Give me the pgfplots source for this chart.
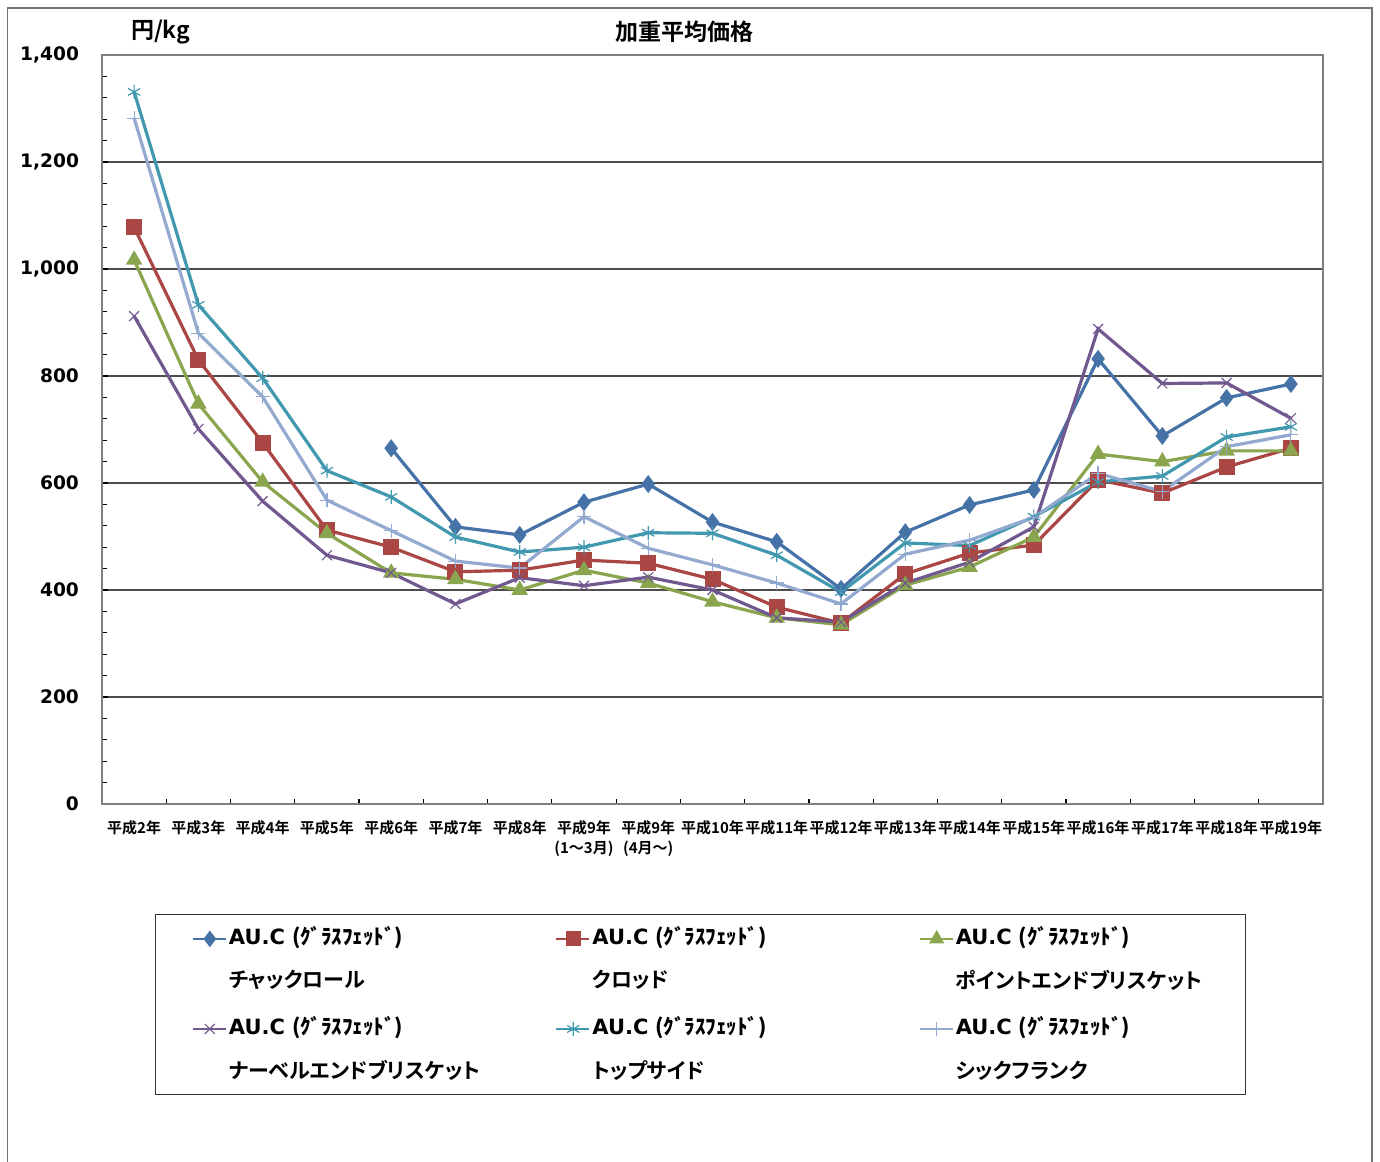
\documentclass[border=0pt]{standalone}
\usepackage{fontspec}
\usepackage{pgfplots}
\pgfplotsset{compat=1.18}
\setmainfont{DejaVu Sans}
\newfontfamily\jpb{Noto Sans CJK JP Bold}[RawFeature=+palt]
\definecolor{c1}{HTML}{4572A7}
\definecolor{c2}{HTML}{AA4643}
\definecolor{c3}{HTML}{89A54E}
\definecolor{c4}{HTML}{71588F}
\definecolor{c5}{HTML}{4198AF}
\definecolor{c6}{HTML}{93A9CF}
\newcommand{\auc}{\bfseries AU.C {\jpb (ｸﾞﾗｽﾌｪｯﾄﾞ)}}
\newcommand{\lent}[1]{\begin{tabular}[t]{@{}l@{}}\auc\\[9pt]{\jpb #1}\end{tabular}}
\begin{document}
\begin{tikzpicture}
\path[use as bounding box] (0,0) rectangle (690pt,580.5pt);
\draw[black!55, line width=0.8pt] (3.7pt,-2pt) -- (3.7pt,576.5pt) -- (686pt,576.5pt) -- (686pt,-2pt);
\node[font=\jpb\fontsize{11.5}{13}\selectfont, anchor=west] at (62pt,564.5pt) {円/kg};
\node[font=\jpb\fontsize{11.5}{13}\selectfont] at (342pt,564.5pt) {加重平均価格};
\begin{axis}[
  at={(51pt,178.5pt)}, anchor=south west, scale only axis,
  width=610.5pt, height=374.5pt,
  xmin=-0.5, xmax=18.5, ymin=0, ymax=1400,
  xtick={0,...,18},
  xticklabels={平成2年,平成3年,平成4年,平成5年,平成6年,平成7年,平成8年,{平成9年\\(1～3月)},{平成9年\\(4月～)},平成10年,平成11年,平成12年,平成13年,平成14年,平成15年,平成16年,平成17年,平成18年,平成19年},
  minor xtick={-0.5,0.5,...,18.5},
  major x tick style={draw=none},
  ytick={0,200,...,1400},
  minor y tick num=4,
  tick align=inside,
  xtick pos=bottom, ytick pos=left,
  major tick length=3pt, minor tick length=2.5pt,
  tick style={black, line width=0.6pt},
  ymajorgrids,
  grid style={black!70, line width=0.8pt},
  axis line style={black!50, line width=0.8pt},
  x tick label style={font=\jpb\fontsize{7.5}{10}\selectfont, align=center, anchor=north, yshift=-5pt},
  y tick label style={font=\bfseries\fontsize{9.3}{11}\selectfont, xshift=-8pt},
  /pgf/number format/assume math mode=true,
  /pgf/number format/1000 sep={,},
  every axis plot/.append style={line width=1.6pt, mark size=3.2pt},
  legend columns=3,
  legend cell align=left,
  legend style={
    at={(0.0434,-0.1469)}, anchor=north west,
    draw=black!80, line width=0.6pt,
    font=\fontsize{10.5}{12.6}\selectfont,
    inner xsep=18pt, inner ysep=5pt,
    row sep=10pt,
    /tikz/every even column/.append style={column sep=36pt},
    nodes={text width=126pt, text depth=24pt, inner sep=1pt},
  },
  legend image code/.code={%
    \draw[mark repeat=2,mark phase=2, line width=1.2pt] plot coordinates {(0cm,10.4pt) (0.3cm,10.4pt) (0.58cm,10.4pt)};},
]
\addplot[c1, mark=diamond*, mark options={fill=c1}] coordinates {
(4,665) (5,518) (6,503) (7,564) (8,598) (9,527) (10,490) (11,402) (12,508) (13,559) (14,587) (15,832) (16,688) (17,759) (18,785)};
\addlegendentry{\lent{チャックロール}}
\addplot[c2, mark=square*, mark options={fill=c2}] coordinates {
(0,1078) (1,830) (2,675) (3,512) (4,480) (5,434) (6,437) (7,456) (8,450) (9,420) (10,368) (11,338) (12,430) (13,469) (14,484) (15,606) (16,581) (17,630) (18,665)};
\addlegendentry{\lent{クロッド}}
\addplot[c3, mark=triangle*, mark options={fill=c3}] coordinates {
(0,1017) (1,748) (2,602) (3,506) (4,432) (5,420) (6,400) (7,437) (8,413) (9,378) (10,348) (11,335) (12,409) (13,443) (14,499) (15,654) (16,640) (17,660) (18,660)};
\addlegendentry{\lent{ポイントエンドブリスケット}}
\addplot[c4, mark=x, mark options={line width=0.6pt, mark size=3.5pt}] coordinates {
(0,912) (1,701) (2,566) (3,465) (4,432) (5,374) (6,423) (7,408) (8,424) (9,400) (10,348) (11,340) (12,413) (13,452) (14,518) (15,888) (16,786) (17,787) (18,721)};
\addlegendentry{\lent{ナーベルエンドブリスケット}}
\addplot[c5, mark=asterisk, mark options={line width=0.6pt, mark size=3.5pt}] coordinates {
(0,1331) (1,933) (2,796) (3,623) (4,574) (5,499) (6,471) (7,480) (8,507) (9,506) (10,465) (11,396) (12,488) (13,483) (14,537) (15,602) (16,613) (17,686) (18,705)};
\addlegendentry{\lent{トップサイド}}
\addplot[c6, mark=+, mark options={line width=0.6pt, mark size=3.5pt}] coordinates {
(0,1282) (1,880) (2,761) (3,568) (4,511) (5,454) (6,441) (7,537) (8,478) (9,447) (10,413) (11,374) (12,467) (13,493) (14,536) (15,618) (16,584) (17,668) (18,690)};
\addlegendentry{\lent{シックフランク}}
\end{axis}
\end{tikzpicture}
\end{document}
